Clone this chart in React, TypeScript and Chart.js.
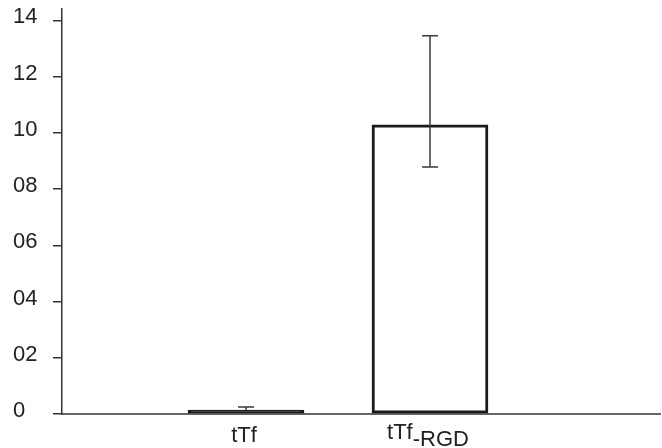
import React, { useEffect, useRef } from "react";
import { Chart, registerables } from "chart.js";

Chart.register(...registerables);

const categories = ["tTf", "tTf-RGD"];
const categoryMain = ["tTf", "tTf"];
const categorySub = ["", "-RGD"];
const categoryX = [1, 2];
const meanValues = [0.14, 10.28];
const errLow = [0.14, 8.78];
const errHigh = [0.25, 13.45];
const yTickLabels: Record<number, string> = {
  0: "0",
  2: "02",
  4: "04",
  6: "06",
  8: "08",
  10: "10",
  12: "12",
  14: "14",
};

const FONT = '"Liberation Sans", Arial, sans-serif';

const errorBarPlugin = {
  id: "errorBars",
  afterDatasetsDraw(chart: any) {
    const ctx = chart.ctx;
    const x = chart.scales.x;
    const y = chart.scales.y;
    ctx.save();
    ctx.strokeStyle = "#3a3a3a";
    ctx.lineWidth = 1.5;
    categoryX.forEach((cx, i) => {
      const px = x.getPixelForValue(cx);
      const top = y.getPixelForValue(errHigh[i]);
      const bot = y.getPixelForValue(errLow[i]);
      const cap = 8;
      ctx.beginPath();
      ctx.moveTo(px, top);
      ctx.lineTo(px, bot);
      ctx.moveTo(px - cap, top);
      ctx.lineTo(px + cap, top);
      if (errLow[i] !== meanValues[i]) {
        ctx.moveTo(px - cap, bot);
        ctx.lineTo(px + cap, bot);
      }
      ctx.stroke();
    });
    ctx.restore();
  },
};

const xLabelPlugin = {
  id: "xLabels",
  afterDraw(chart: any) {
    const ctx = chart.ctx;
    const x = chart.scales.x;
    ctx.save();
    ctx.fillStyle = "#222";
    ctx.font = `22px ${FONT}`;
    ctx.textBaseline = "alphabetic";
    ctx.textAlign = "left";
    categoryX.forEach((cx, i) => {
      const px = x.getPixelForValue(cx);
      const wMain = ctx.measureText(categoryMain[i]).width;
      const wSub = ctx.measureText(categorySub[i]).width;
      const total = wMain + wSub;
      const left = px - total / 2 - 2;
      if (categorySub[i]) {
        ctx.fillText(categoryMain[i], left, 439);
        ctx.fillText(categorySub[i], left + wMain, 446);
      } else {
        ctx.fillText(categoryMain[i], left, 442);
      }
    });
    ctx.restore();
  },
};

export default function App() {
  const ref = useRef<HTMLCanvasElement>(null);
  useEffect(() => {
    if (!ref.current) return;
    const chart = new Chart(ref.current, {
      type: "bar",
      data: {
        labels: categories,
        datasets: [
          {
            data: categoryX.map((cx, i) => ({ x: cx, y: meanValues[i] })),
            backgroundColor: ["#1a1a1a", "#ffffff"],
            borderColor: "#1a1a1a",
            borderWidth: 3,
            borderSkipped: false,
            barThickness: 116,
          } as any,
        ],
      },
      options: {
        animation: false,
        responsive: false,
        layout: { padding: { left: 13, top: 9, right: 2, bottom: 0 } },
        plugins: {
          legend: { display: false },
          tooltip: { enabled: false },
        },
        scales: {
          x: {
            type: "linear",
            min: 0,
            max: 3.25,
            offset: false,
            grid: { display: false },
            border: { display: true, color: "#666", width: 2 },
            ticks: { display: false },
            afterFit: (s: any) => {
              s.height = 34;
              s.paddingLeft = 0;
              s.paddingRight = 0;
            },
          },
          y: {
            min: 0,
            max: 14.4,
            grid: {
              drawOnChartArea: false,
              drawTicks: true,
              tickLength: 9,
              color: "#333",
              lineWidth: 1.5,
            },
            border: { display: true, color: "#333", width: 1.5 },
            ticks: {
              stepSize: 2,
              includeBounds: false,
              crossAlign: "far",
              labelOffset: -3,
              color: "#222",
              font: { family: FONT, size: 22 },
              callback: (v: any) => yTickLabels[v as number] ?? "",
            },
            afterFit: (s: any) => {
              s.width = 49;
              s.paddingTop = 0;
              s.paddingBottom = 0;
            },
          },
        },
      } as any,
      plugins: [errorBarPlugin, xLabelPlugin],
    });
    return () => chart.destroy();
  }, []);
  return (
    <div style={{ position: "fixed", left: 0, top: 0, width: 662, height: 448, background: "#fff" }}>
      <canvas ref={ref} width={662} height={448} style={{ width: 662, height: 448 }} />
    </div>
  );
}
